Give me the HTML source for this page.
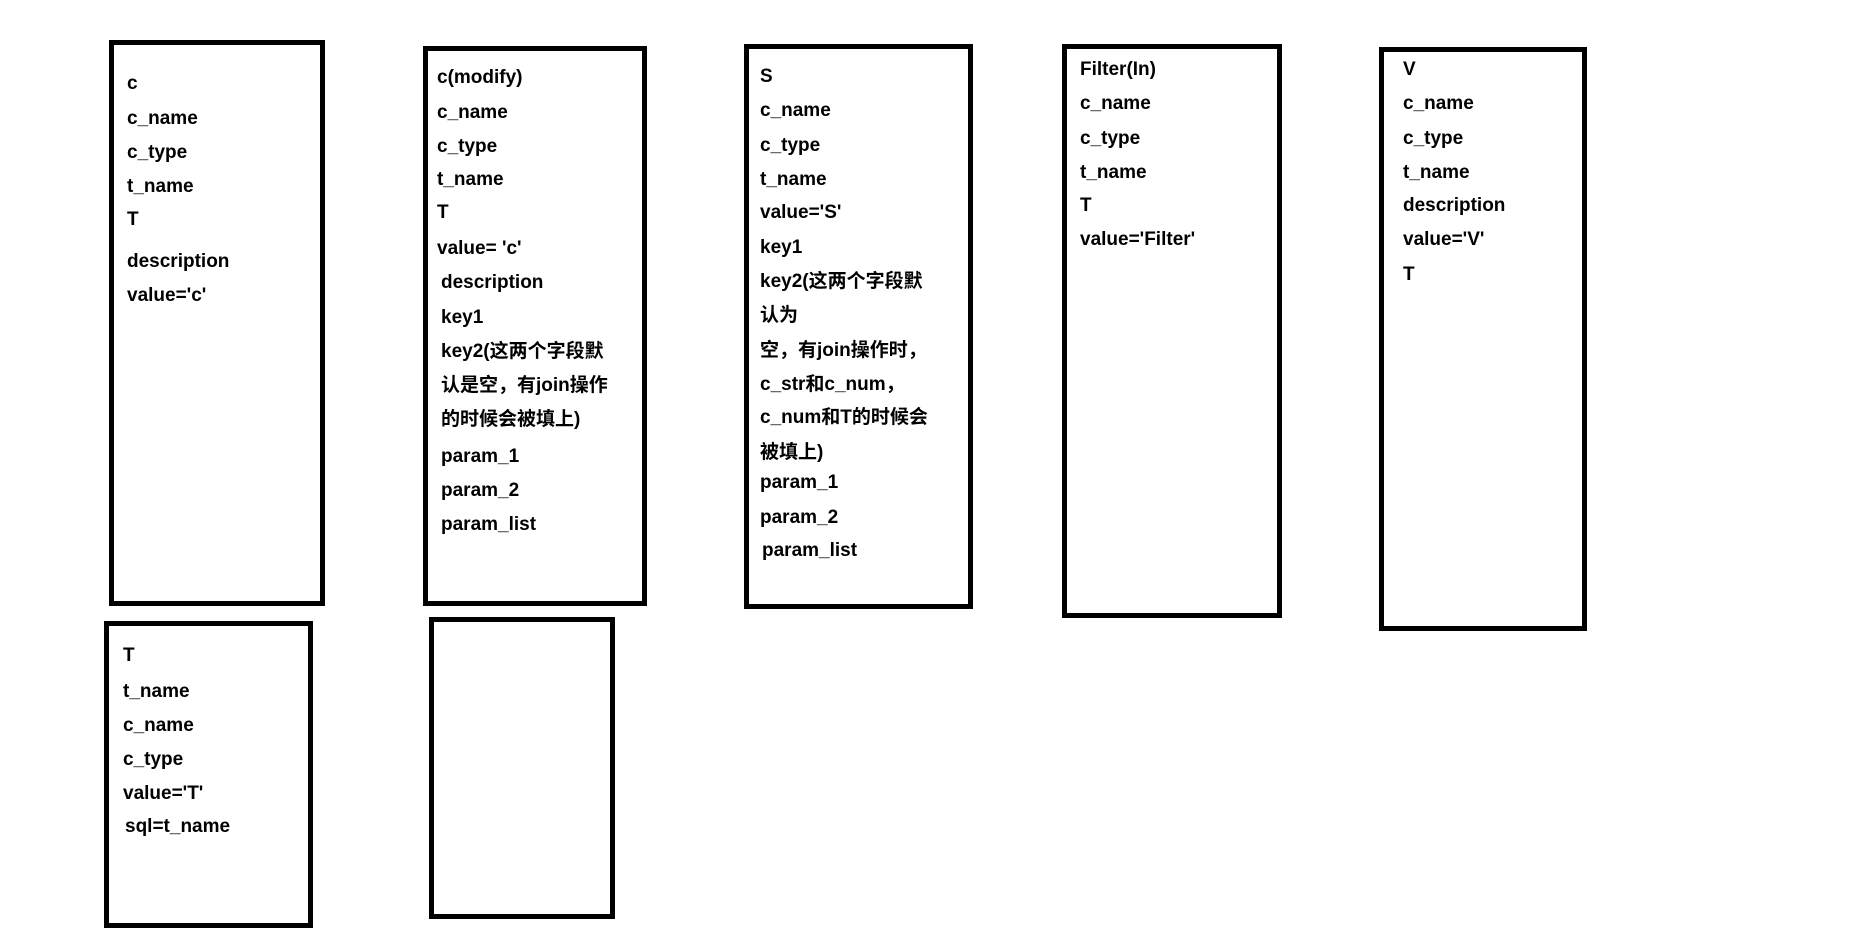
<!DOCTYPE html>
<html><head><meta charset="utf-8"><style>
body{margin:0;width:1851px;height:930px;background:#fff;position:relative;overflow:hidden;font-family:"Liberation Sans","Noto Sans CJK SC",sans-serif;font-weight:bold;font-size:19px;color:#000}
.b{position:absolute;border:5px solid #000;box-sizing:border-box}
.t{position:absolute;line-height:22px;white-space:nowrap}
</style></head><body>
<div class="b" style="left:109px;top:40px;width:216px;height:566px"></div>
<div class="b" style="left:423px;top:46px;width:224px;height:560px"></div>
<div class="b" style="left:744px;top:44px;width:229px;height:565px"></div>
<div class="b" style="left:1062px;top:44px;width:220px;height:574px"></div>
<div class="b" style="left:1379px;top:47px;width:208px;height:584px"></div>
<div class="b" style="left:104px;top:621px;width:209px;height:307px"></div>
<div class="b" style="left:429px;top:617px;width:186px;height:302px"></div>

<div class="t" style="left:127px;top:73px">c</div>
<div class="t" style="left:127px;top:108px">c_name</div>
<div class="t" style="left:127px;top:142px">c_type</div>
<div class="t" style="left:127px;top:176px">t_name</div>
<div class="t" style="left:127px;top:209px">T</div>
<div class="t" style="left:127px;top:251px">description</div>
<div class="t" style="left:127px;top:285px">value='c'</div>

<div class="t" style="left:437px;top:67px">c(modify)</div>
<div class="t" style="left:437px;top:102px">c_name</div>
<div class="t" style="left:437px;top:136px">c_type</div>
<div class="t" style="left:437px;top:169px">t_name</div>
<div class="t" style="left:437px;top:202px">T</div>
<div class="t" style="left:437px;top:238px">value= 'c'</div>
<div class="t" style="left:441px;top:272px">description</div>
<div class="t" style="left:441px;top:307px">key1</div>
<div class="t" style="left:441px;top:341px">key2(这两个字段默</div>
<div class="t" style="left:441px;top:375px">认是空，有join操作</div>
<div class="t" style="left:441px;top:409px">的时候会被填上)</div>
<div class="t" style="left:441px;top:446px">param_1</div>
<div class="t" style="left:441px;top:480px">param_2</div>
<div class="t" style="left:441px;top:514px">param_list</div>

<div class="t" style="left:760px;top:66px">S</div>
<div class="t" style="left:760px;top:100px">c_name</div>
<div class="t" style="left:760px;top:135px">c_type</div>
<div class="t" style="left:760px;top:169px">t_name</div>
<div class="t" style="left:760px;top:202px">value='S'</div>
<div class="t" style="left:760px;top:237px">key1</div>
<div class="t" style="left:760px;top:271px">key2(这两个字段默</div>
<div class="t" style="left:760px;top:305px">认为</div>
<div class="t" style="left:760px;top:340px">空，有join操作时，</div>
<div class="t" style="left:760px;top:374px">c_str和c_num，</div>
<div class="t" style="left:760px;top:407px">c_num和T的时候会</div>
<div class="t" style="left:760px;top:442px">被填上)</div>
<div class="t" style="left:760px;top:472px">param_1</div>
<div class="t" style="left:760px;top:507px">param_2</div>
<div class="t" style="left:762px;top:540px">param_list</div>

<div class="t" style="left:1080px;top:59px">Filter(In)</div>
<div class="t" style="left:1080px;top:93px">c_name</div>
<div class="t" style="left:1080px;top:128px">c_type</div>
<div class="t" style="left:1080px;top:162px">t_name</div>
<div class="t" style="left:1080px;top:195px">T</div>
<div class="t" style="left:1080px;top:229px">value='Filter'</div>

<div class="t" style="left:1403px;top:59px">V</div>
<div class="t" style="left:1403px;top:93px">c_name</div>
<div class="t" style="left:1403px;top:128px">c_type</div>
<div class="t" style="left:1403px;top:162px">t_name</div>
<div class="t" style="left:1403px;top:195px">description</div>
<div class="t" style="left:1403px;top:229px">value='V'</div>
<div class="t" style="left:1403px;top:264px">T</div>

<div class="t" style="left:123px;top:645px">T</div>
<div class="t" style="left:123px;top:681px">t_name</div>
<div class="t" style="left:123px;top:715px">c_name</div>
<div class="t" style="left:123px;top:749px">c_type</div>
<div class="t" style="left:123px;top:783px">value='T'</div>
<div class="t" style="left:125px;top:816px">sql=t_name</div>
</body></html>
